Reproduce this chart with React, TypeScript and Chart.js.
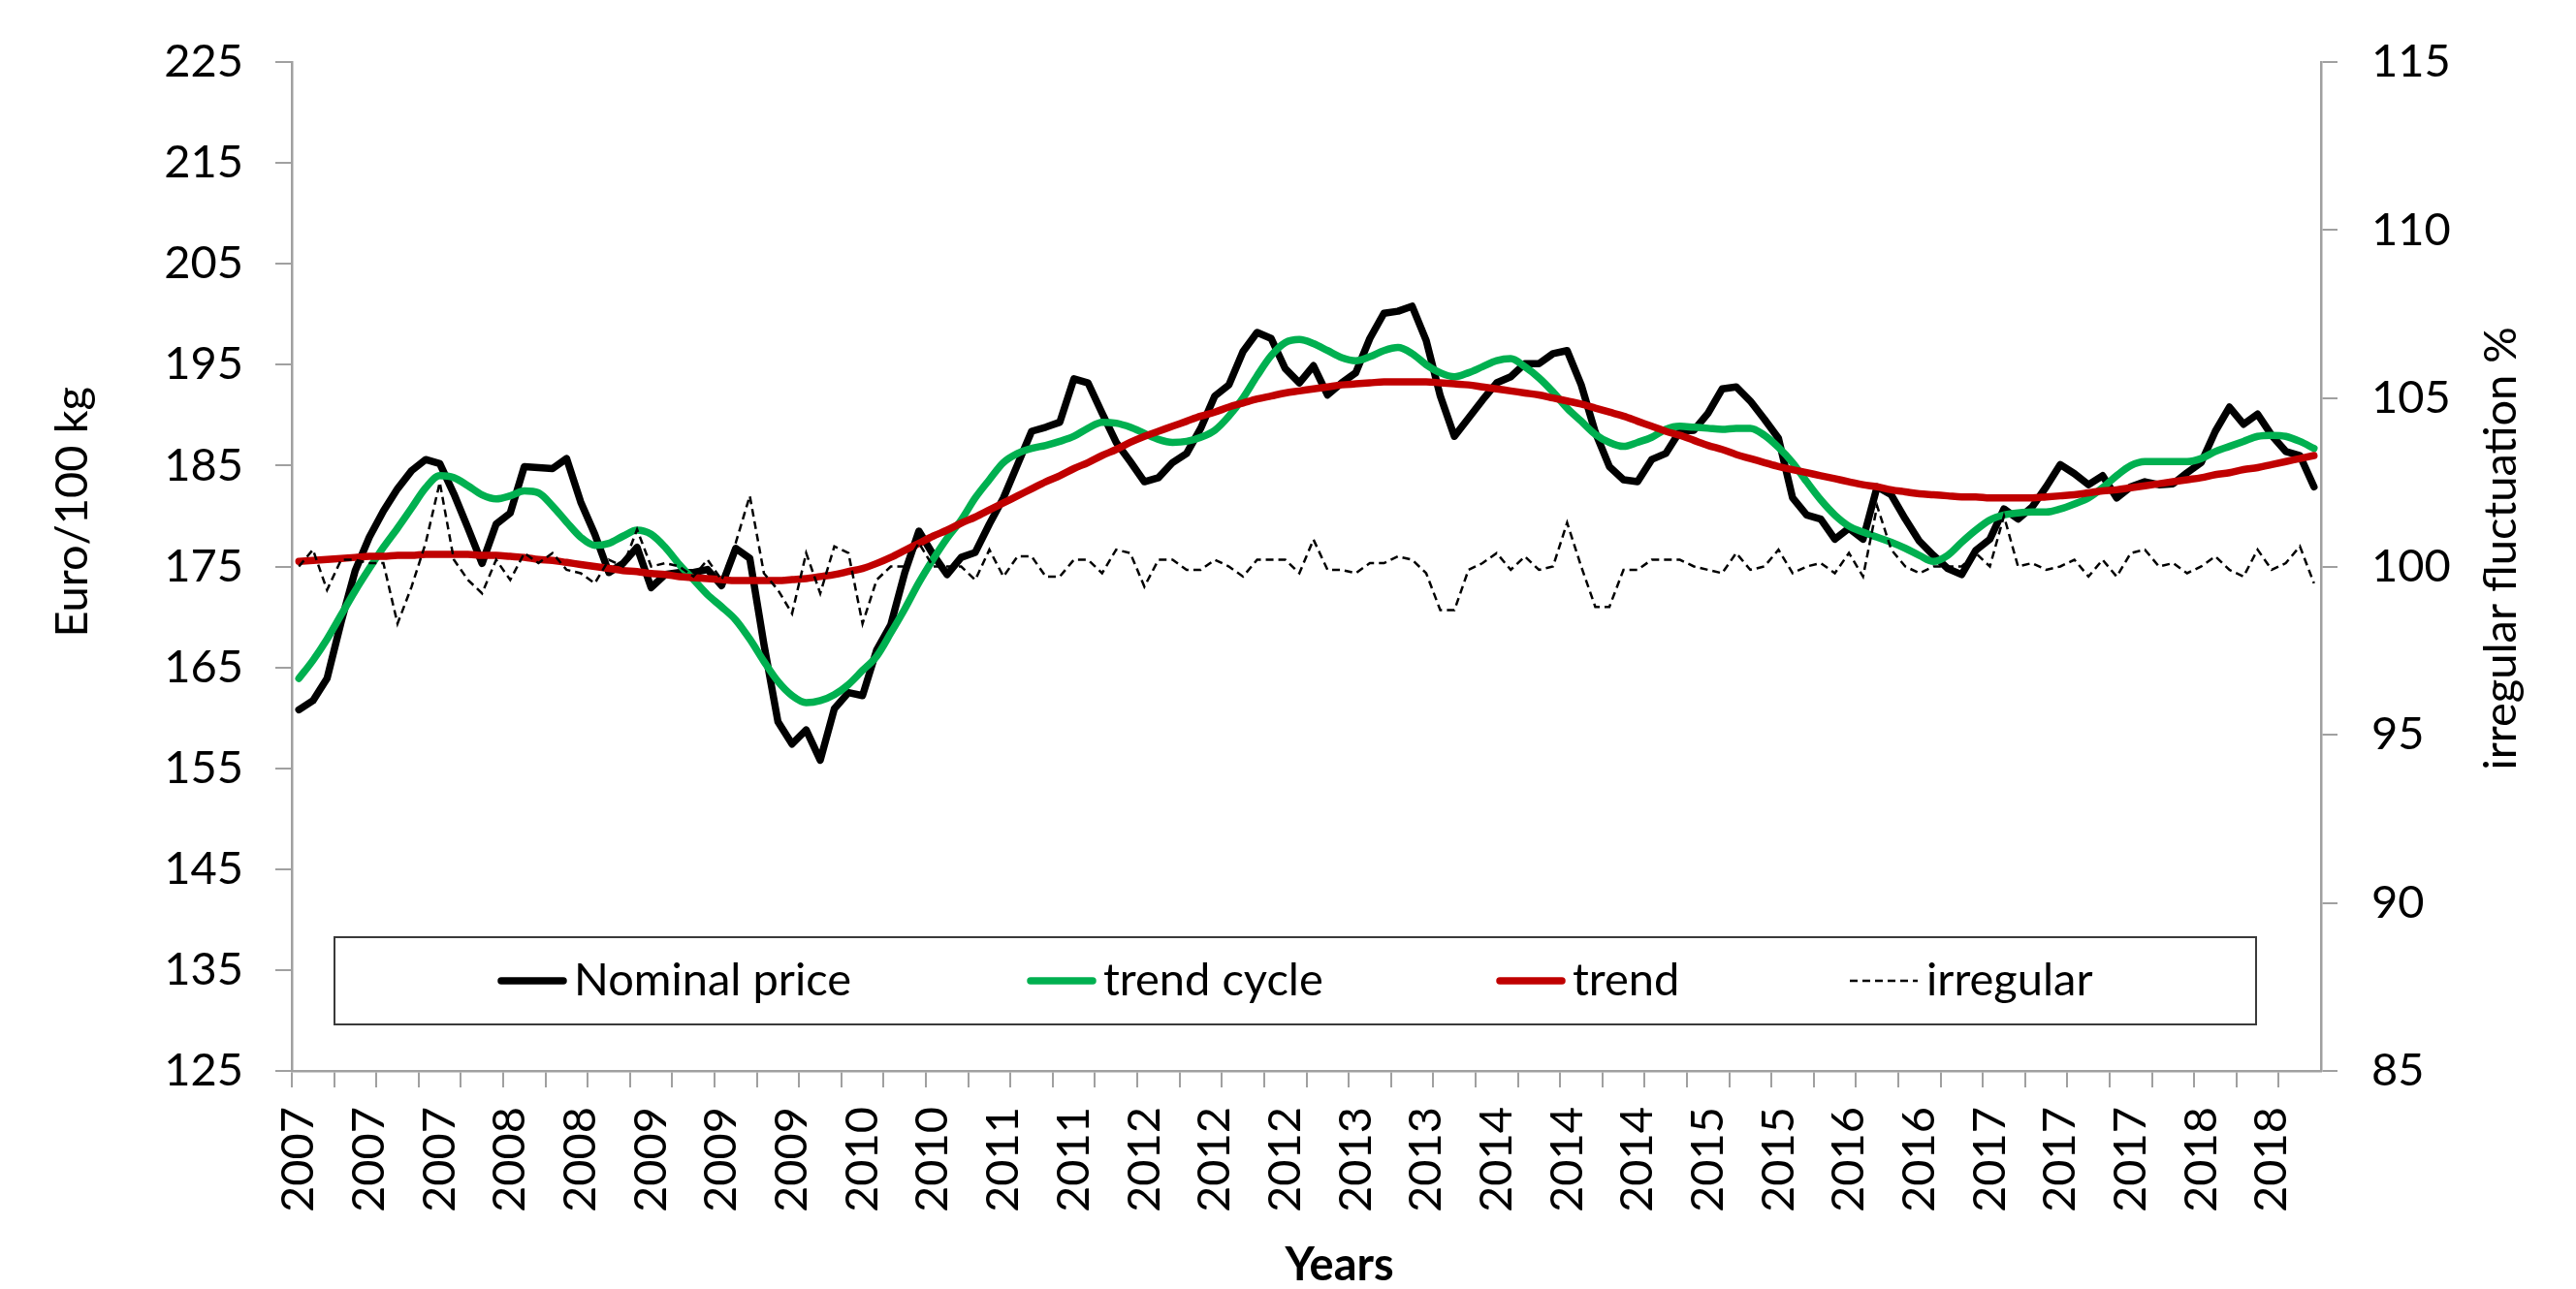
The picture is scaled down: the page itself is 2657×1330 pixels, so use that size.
import React, { useEffect, useRef } from 'react';
import { Chart, registerables } from 'chart.js';

Chart.register(...registerables);

// ---------- data ----------
const years = [2007, 2008, 2009, 2010, 2011, 2012, 2013, 2014, 2015, 2016, 2017, 2018];
const categories: string[] = [];
for (const y of years) {
  for (let m = 1; m <= 12; m++) categories.push(`${y}-${String(m).padStart(2, '0')}`);
}

const nominalPrice = [
  160.8, 161.7, 163.9, 169.5, 174.6, 177.9, 180.5, 182.7, 184.5, 185.6, 185.2, 182.2,
  178.8, 175.3, 179.2, 180.3, 184.9, 184.8, 184.7, 185.7, 181.4, 178.2, 174.4, 175.3,
  176.9, 172.9, 174.2, 174.4, 174.4, 174.7, 173.1, 176.8, 175.8, 167.3, 159.6, 157.4,
  158.8, 155.8, 160.9, 162.5, 162.2, 166.7, 169.2, 174.4, 178.5, 176.2, 174.2, 175.9,
  176.4, 179.2, 181.8, 185.1, 188.4, 188.8, 189.3, 193.6, 193.2, 190.2, 187.3, 185.4,
  183.4, 183.8, 185.3, 186.2, 188.7, 191.9, 193.0, 196.3, 198.2, 197.6, 194.6, 193.2,
  194.9, 192.0, 193.2, 194.2, 197.6, 200.1, 200.3, 200.8, 197.4, 191.9, 187.9, 189.7,
  191.5, 193.2, 193.8, 195.1, 195.1, 196.1, 196.4, 193.0, 188.3, 184.9, 183.6, 183.4,
  185.6, 186.2, 188.4, 188.5, 190.2, 192.6, 192.8, 191.4, 189.6, 187.7, 181.8, 180.1,
  179.7, 177.7, 178.8, 177.7, 182.9, 182.1, 179.7, 177.5, 176.1, 174.8, 174.2, 176.6,
  177.7, 180.7, 179.7, 180.9, 182.9, 185.1, 184.2, 183.1, 184.0, 181.8, 182.9, 183.4,
  183.1, 183.2, 184.3, 185.3, 188.4, 190.8, 189.1, 190.1, 188.0, 186.4, 186.0, 182.9,
];

const trendCycle = [
  163.9, 165.7, 167.8, 170.2, 172.6, 174.8, 176.9, 178.8, 180.8, 182.8, 184.0, 183.8,
  183.0, 182.1, 181.7, 182.0, 182.5, 182.3, 181.0, 179.4, 177.9, 177.1, 177.3, 178.0,
  178.6, 178.2, 176.9, 175.2, 173.7, 172.2, 171.0, 169.7, 167.8, 165.6, 163.6, 162.2,
  161.5, 161.7, 162.3, 163.3, 164.7, 166.1, 168.4, 170.8, 173.4, 175.7, 177.8, 179.6,
  181.8, 183.6, 185.3, 186.2, 186.7, 187.0, 187.4, 187.9, 188.7, 189.3, 189.2, 188.8,
  188.2, 187.6, 187.3, 187.4, 187.8, 188.5, 189.9, 191.7, 193.9, 195.9, 197.2, 197.5,
  197.1, 196.4, 195.7, 195.4, 195.8, 196.4, 196.7, 196.1, 195.0, 194.2, 193.8, 194.2,
  194.8, 195.4, 195.6, 194.8, 193.7, 192.3, 190.7, 189.4, 188.1, 187.3, 186.9, 187.3,
  187.8, 188.6, 188.9, 188.8, 188.7, 188.6, 188.7, 188.7, 188.0, 186.8, 185.3, 183.4,
  181.6, 180.1, 179.0, 178.4, 177.9, 177.4, 176.8, 176.1, 175.5, 176.1, 177.4, 178.6,
  179.6, 180.1, 180.3, 180.4, 180.4, 180.7, 181.2, 181.8, 182.8, 184.0, 185.0, 185.4,
  185.4, 185.4, 185.4, 185.7, 186.4, 186.9, 187.4, 187.9, 188.0, 187.9, 187.4, 186.7,
];

const trend = [
  175.5, 175.6, 175.7, 175.8, 175.9, 176.0, 176.0, 176.1, 176.1, 176.2, 176.2, 176.2,
  176.2, 176.1, 176.1, 176.0, 175.9, 175.7, 175.6, 175.4, 175.2, 175.0, 174.8, 174.6,
  174.5, 174.3, 174.2, 174.0, 173.9, 173.8, 173.7, 173.6, 173.6, 173.6, 173.6, 173.7,
  173.8, 174.0, 174.2, 174.5, 174.8, 175.3, 175.9, 176.6, 177.3, 178.0, 178.6, 179.3,
  179.9, 180.6, 181.3, 182.0, 182.7, 183.4, 184.0, 184.7, 185.3, 186.0, 186.6, 187.3,
  187.9, 188.4, 188.9, 189.4, 189.9, 190.3, 190.8, 191.2, 191.6, 191.9, 192.2, 192.4,
  192.6, 192.8, 193.0, 193.1, 193.2, 193.3, 193.3, 193.3, 193.3, 193.2, 193.1, 193.0,
  192.8, 192.6, 192.4, 192.2, 192.0, 191.7, 191.4, 191.1, 190.7, 190.3, 189.9, 189.4,
  188.9, 188.4, 188.0, 187.5, 187.0, 186.6, 186.1, 185.7, 185.3, 184.9, 184.6, 184.3,
  184.0, 183.7, 183.4, 183.1, 182.9, 182.6, 182.4, 182.2, 182.1, 182.0, 181.9, 181.9,
  181.8, 181.8, 181.8, 181.8, 181.9, 182.0, 182.1, 182.3, 182.5, 182.6, 182.8, 183.0,
  183.2, 183.4, 183.6, 183.8, 184.1, 184.3, 184.6, 184.8, 185.1, 185.4, 185.7, 186.0,
];

const irregular = [
  100.0, 100.5, 99.3, 100.2, 100.2, 100.1, 100.1, 98.3, 99.4, 100.7, 102.5, 100.2,
  99.6, 99.2, 100.2, 99.6, 100.4, 100.1, 100.4, 99.9, 99.8, 99.5, 100.2, 100.0,
  101.1, 100.0, 100.1, 100.0, 99.7, 100.2, 99.6, 100.7, 102.1, 99.8, 99.3, 98.6,
  100.4, 99.2, 100.6, 100.4, 98.3, 99.6, 100.0, 100.0, 100.7, 100.0, 100.0, 100.0,
  99.6, 100.5, 99.7, 100.3, 100.3, 99.7, 99.7, 100.2, 100.2, 99.8, 100.5, 100.4,
  99.4, 100.2, 100.2, 99.9, 99.9, 100.2, 100.0, 99.7, 100.2, 100.2, 100.2, 99.8,
  100.8, 99.9, 99.9, 99.8, 100.1, 100.1, 100.3, 100.2, 99.8, 98.7, 98.7, 99.9,
  100.1, 100.4, 99.9, 100.3, 99.9, 100.0, 101.3, 100.0, 98.8, 98.8, 99.9, 99.9,
  100.2, 100.2, 100.2, 100.0, 99.9, 99.8, 100.4, 99.9, 100.0, 100.5, 99.8, 100.0,
  100.1, 99.8, 100.4, 99.7, 101.8, 100.5, 100.0, 99.8, 100.0, 100.0, 100.0, 100.4,
  100.0, 101.5, 100.0, 100.1, 99.9, 100.0, 100.2, 99.7, 100.2, 99.7, 100.4, 100.5,
  100.0, 100.1, 99.8, 100.0, 100.3, 99.9, 99.7, 100.5, 99.9, 100.1, 100.6, 99.5,
];

const seriesNames = ['Nominal price', 'trend cycle', 'trend', 'irregular'];
const leftAxisTitle = 'Euro/100 kg';
const rightAxisTitle = 'irregular fluctuation %';
const xAxisTitle = 'Years';
const leftMin = 125, leftMax = 225, leftStep = 10;
const rightMin = 85, rightMax = 115, rightStep = 5;
const labelEvery = 5; // category label interval
const tickEvery = 3; // tick mark interval

// ---------- style ----------
const FONT = 'Lato';
const FS = 47;
const AXIS = '#A0A0A0';
const BLACK = '#000000';
const GREEN = '#00B050';
const RED = '#C00000';

const decorPlugin = {
  id: 'decor',
  afterDraw(chart: any) {
    const { ctx, chartArea: ca } = chart;
    const h = ca.bottom - ca.top;
    ctx.save();
    ctx.fillStyle = '#000';
    ctx.textBaseline = 'middle';
    ctx.textAlign = 'center';
    ctx.font = `${FS}px ${FONT}`;

    // left axis title
    ctx.save();
    ctx.translate(ca.left - 226, ca.top + h * 0.446);
    ctx.rotate(-Math.PI / 2);
    ctx.fillText(leftAxisTitle, 0, 0);
    ctx.restore();

    // right axis title
    ctx.save();
    ctx.translate(ca.right + 186, ca.top + h * 0.482);
    ctx.rotate(-Math.PI / 2);
    ctx.fillText(rightAxisTitle, 0, 0);
    ctx.restore();

    // x axis title
    ctx.save();
    ctx.font = `bold ${FS}px ${FONT}`;
    ctx.fillText(xAxisTitle, (ca.left + ca.right) / 2 + 34, ca.bottom + 201);
    ctx.restore();

    // legend box
    const bl = ca.left + 44;
    const br = ca.right - 67;
    const bt = ca.bottom - 138;
    const bb = ca.bottom - 48;
    ctx.fillStyle = '#ffffff';
    ctx.fillRect(bl, bt, br - bl, bb - bt);
    ctx.strokeStyle = '#3a3a3a';
    ctx.lineWidth = 2;
    ctx.strokeRect(bl, bt, br - bl, bb - bt);

    const cy = (bt + bb) / 2;
    const offsets = [168, 714, 1198, 1563];
    chart.data.datasets.forEach((ds: any, i: number) => {
      const x0 = bl + offsets[i];
      const len = i === 3 ? 70 : 72;
      ctx.save();
      ctx.strokeStyle = ds.borderColor;
      ctx.lineWidth = ds.borderWidth;
      ctx.lineCap = i === 3 ? 'butt' : 'round';
      ctx.setLineDash(ds.borderDash || []);
      ctx.beginPath();
      ctx.moveTo(x0 + (i === 3 ? 0 : 4), cy);
      ctx.lineTo(x0 + len - (i === 3 ? 0 : 4), cy);
      ctx.stroke();
      ctx.restore();
      ctx.fillStyle = '#000';
      ctx.textAlign = 'left';
      ctx.fillText(ds.label, x0 + 79, cy);
    });
    ctx.restore();
  },
};

export default function App() {
  const ref = useRef<HTMLCanvasElement | null>(null);

  useEffect(() => {
    if (!ref.current) return;
    const chart = new Chart(ref.current, {
      type: 'line',
      data: {
        labels: categories,
        datasets: [
          {
            label: seriesNames[0],
            data: nominalPrice,
            yAxisID: 'y',
            borderColor: BLACK,
            borderWidth: 7.5,
            pointRadius: 0,
            tension: 0,
            borderJoinStyle: 'round',
            borderCapStyle: 'round',
            order: 4,
          },
          {
            label: seriesNames[1],
            data: trendCycle,
            yAxisID: 'y',
            borderColor: GREEN,
            borderWidth: 7.5,
            pointRadius: 0,
            cubicInterpolationMode: 'monotone',
            borderJoinStyle: 'round',
            borderCapStyle: 'round',
            order: 3,
          },
          {
            label: seriesNames[2],
            data: trend,
            yAxisID: 'y',
            borderColor: RED,
            borderWidth: 7.5,
            pointRadius: 0,
            cubicInterpolationMode: 'monotone',
            borderJoinStyle: 'round',
            borderCapStyle: 'round',
            order: 2,
          },
          {
            label: seriesNames[3],
            data: irregular,
            yAxisID: 'y1',
            borderColor: BLACK,
            borderWidth: 2.5,
            borderDash: [8, 5],
            pointRadius: 0,
            tension: 0,
            order: 1,
          },
        ],
      },
      options: {
        responsive: false,
        animation: false,
        devicePixelRatio: 1,
        layout: { padding: { top: 64, left: 0, right: 0, bottom: 0 } },
        plugins: {
          legend: { display: false },
          title: { display: false },
          tooltip: { enabled: false },
        },
        font: { family: FONT },
        scales: {
          x: {
            type: 'category',
            offset: true,
            grid: {
              display: true,
              drawOnChartArea: false,
              drawTicks: true,
              tickLength: 17,
              offset: true,
              lineWidth: 2,
              color: (c: any) => (c.index % tickEvery === 0 ? AXIS : 'rgba(0,0,0,0)'),
            },
            border: { display: true, color: AXIS, width: 2.5 },
            ticks: {
              autoSkip: false,
              maxRotation: 90,
              minRotation: 90,
              padding: 20,
              color: '#000',
              font: { family: FONT, size: FS },
              callback: function (this: any, value: any, index: number) {
                return index % labelEvery === 0 ? String(this.getLabelForValue(value)).slice(0, 4) : '';
              },
            },
            afterFit: (s: any) => {
              s.height = 225;
            },
          },
          y: {
            position: 'left',
            min: leftMin,
            max: leftMax,
            grid: { drawOnChartArea: false, tickLength: 17, color: AXIS, lineWidth: 2 },
            border: { display: true, color: AXIS, width: 2.5 },
            ticks: {
              stepSize: leftStep,
              padding: 33,
              color: '#000',
              font: { family: FONT, size: FS },
            },
            afterFit: (s: any) => {
              s.width = 301;
            },
          },
          y1: {
            position: 'right',
            min: rightMin,
            max: rightMax,
            grid: { drawOnChartArea: false, tickLength: 17, color: AXIS, lineWidth: 2 },
            border: { display: true, color: AXIS, width: 2.5 },
            ticks: {
              stepSize: rightStep,
              padding: 35,
              color: '#000',
              font: { family: FONT, size: FS },
            },
            afterFit: (s: any) => {
              s.width = 263;
            },
          },
        },
      } as any,
      plugins: [decorPlugin],
    });
    return () => chart.destroy();
  }, []);

  return (
    <div style={{ position: 'absolute', left: 0, top: 0, width: 2657, height: 1330, background: '#fff' }}>
      <canvas ref={ref} width={2657} height={1330} style={{ display: 'block' }} />
    </div>
  );
}
